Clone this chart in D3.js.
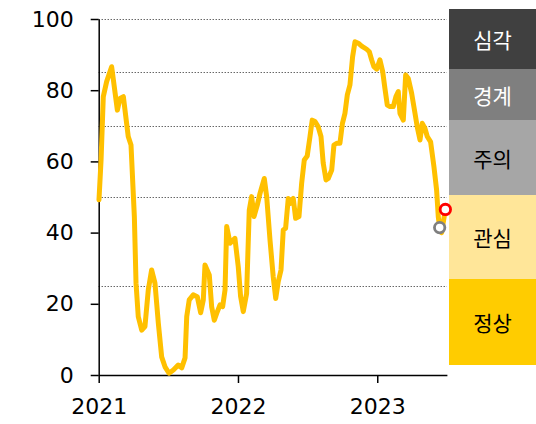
<!DOCTYPE html>
<html>
<head>
<meta charset="utf-8">
<script src="https://cdn.jsdelivr.net/npm/d3@7"></script>
<style>
  html, body { margin: 0; padding: 0; background: #fff; }
  svg { display: block; }
</style>
</head>
<body>
<svg id="chart" width="536" height="424"></svg>
<script>
// ---- data ----
const times = [
  2021.002, 2021.017, 2021.033, 2021.057, 2021.093, 2021.134, 2021.153, 2021.177, 2021.212, 2021.232,
  2021.256, 2021.268, 2021.284, 2021.309, 2021.332, 2021.356, 2021.380, 2021.404, 2021.428, 2021.452,
  2021.476, 2021.505, 2021.536, 2021.571, 2021.596, 2021.620, 2021.632, 2021.650, 2021.679, 2021.708,
  2021.732, 2021.751, 2021.763, 2021.794, 2021.811, 2021.830, 2021.847, 2021.871, 2021.890, 2021.907,
  2021.919, 2021.943, 2021.978, 2022.002, 2022.019, 2022.038, 2022.062, 2022.081, 2022.098, 2022.115,
  2022.139, 2022.158, 2022.189, 2022.206, 2022.230, 2022.253, 2022.271, 2022.289, 2022.309, 2022.325,
  2022.342, 2022.361, 2022.380, 2022.397, 2022.414, 2022.438, 2022.457, 2022.476, 2022.497, 2022.517,
  2022.533, 2022.553, 2022.576, 2022.596, 2022.612, 2022.632, 2022.648, 2022.673, 2022.689, 2022.709,
  2022.732, 2022.750, 2022.768, 2022.785, 2022.804, 2022.823, 2022.840, 2022.864, 2022.888, 2022.924,
  2022.943, 2022.960, 2022.976, 2022.996, 2023.019, 2023.039, 2023.055, 2023.072, 2023.091, 2023.115,
  2023.134, 2023.151, 2023.163, 2023.187, 2023.204, 2023.223, 2023.247, 2023.271, 2023.287, 2023.307,
  2023.323, 2023.342, 2023.359, 2023.383, 2023.407, 2023.426, 2023.438, 2023.448, 2023.462, 2023.489
];
const values = [
  49.2, 60.4, 78.2, 82.4, 86.6, 74.4, 77.7, 78.2, 67.0, 64.6,
  44.5, 25.8, 16.4, 12.6, 13.6, 23.9, 29.5, 25.8, 14.6, 5.1,
  2.3, 0.5, 1.4, 2.8, 2.0, 4.8, 16.4, 21.1, 22.5, 22.0,
  17.5, 21.1, 30.9, 28.1, 19.2, 15.4, 17.3, 19.7, 19.2, 23.9,
  41.7, 37.0, 38.4, 30.4, 22.0, 17.8, 22.9, 46.3, 50.1, 44.5,
  47.8, 51.0, 55.2, 50.1, 37.9, 27.6, 21.5, 26.2, 29.5, 40.7,
  41.2, 49.6, 48.2, 49.6, 44.0, 44.5, 53.8, 60.4, 61.5, 67.0,
  71.6, 71.2, 69.7, 67.0, 59.5, 54.8, 55.2, 57.6, 64.6, 65.1,
  65.1, 70.7, 73.5, 78.7, 81.5, 89.4, 93.6, 93.2, 92.4, 91.5,
  90.8, 88.5, 86.6, 85.9, 88.5, 85.2, 80.5, 75.8, 75.4, 75.4,
  78.2, 79.6, 73.5, 71.6, 84.3, 83.3, 79.1, 73.5, 69.7, 66.0,
  70.7, 69.3, 67.0, 65.5, 58.5, 52.0, 44.5, 41.4, 40.0, 46.5
];
const grayPoint = { t: 2023.448, v: 41.4 };
const redPoint  = { t: 2023.489, v: 46.5 };

const yTicks = [0, 20, 40, 60, 80, 100];
const xTicks = [2021, 2022, 2023];
const gridValues = [25, 50, 70, 85, 100];

const bandLabels = ["심각", "경계", "주의", "관심", "정상"];
const bandColors = ["#404040", "#7f7f7f", "#a6a6a6", "#ffe699", "#ffcc00"];
const bandTextColors = ["#ffffff", "#ffffff", "#000000", "#000000", "#000000"];

// ---- layout ----
const plotLeft = 98.7, plotRight = 446.9, plotTop = 19, plotBottom = 375;
const bandX0 = 449, bandX1 = 536;
const bandEdges = [9, 69, 120, 195, 279, 365]; // panel layout (pixels)

const svg = d3.select("#chart");
const x = d3.scaleLinear().domain([2021, 2023.5]).range([plotLeft, plotRight]);
const y = d3.scaleLinear().domain([0, 100]).range([plotBottom, plotTop]);

const numFont = "'DejaVu Sans', 'Noto Sans', sans-serif";
const krFont = "'Noto Sans CJK KR', 'Noto Sans', sans-serif";

// bands panel (drawn first so markers sit on top)
const bands = bandLabels.map((label, i) => ({
  label, color: bandColors[i], text: bandTextColors[i],
  y0: bandEdges[i], y1: bandEdges[i + 1]
}));
const bg = svg.append("g");
bg.selectAll("rect").data(bands).join("rect")
  .attr("x", bandX0).attr("width", bandX1 - bandX0)
  .attr("y", d => d.y0).attr("height", d => d.y1 - d.y0)
  .attr("fill", d => d.color);
bg.selectAll("text").data(bands).join("text")
  .attr("x", (bandX0 + bandX1) / 2)
  .attr("y", d => (d.y0 + d.y1) / 2)
  .attr("text-anchor", "middle")
  .attr("dominant-baseline", "central")
  .attr("font-family", krFont)
  .attr("font-size", 21)
  .attr("fill", d => d.text)
  .text(d => d.label);

// grid lines
svg.append("g").selectAll("line").data(gridValues).join("line")
  .attr("x1", plotLeft).attr("x2", plotRight)
  .attr("y1", d => Math.round(y(d)) + 0.5).attr("y2", d => Math.round(y(d)) + 0.5)
  .attr("stroke", "#222").attr("stroke-width", 1)
  .attr("stroke-dasharray", "1,2");

// y axis
const yAxis = svg.append("g")
  .attr("transform", `translate(${plotLeft},0)`)
  .call(d3.axisLeft(y).tickValues(yTicks).tickSize(8).tickPadding(17).tickSizeOuter(0));
yAxis.select(".domain").attr("stroke", "#000").attr("stroke-width", 1.5);
yAxis.selectAll(".tick line").attr("stroke", "#000").attr("stroke-width", 1.5);
yAxis.selectAll(".tick text").attr("font-family", numFont).attr("font-size", 22).attr("fill", "#000");

// x axis
const xAxis = svg.append("g")
  .attr("transform", `translate(0,${plotBottom})`)
  .call(d3.axisBottom(x).tickValues(xTicks).tickFormat(d3.format("d")).tickSize(8).tickPadding(15).tickSizeOuter(0));
xAxis.select(".domain").attr("stroke", "#000").attr("stroke-width", 1.5);
xAxis.selectAll(".tick line").attr("stroke", "#000").attr("stroke-width", 1.5);
xAxis.selectAll(".tick text").attr("font-family", numFont).attr("font-size", 22).attr("fill", "#000");

// line
const data = times.map((t, i) => ({ t, v: values[i] }));
const line = d3.line().x(d => x(d.t)).y(d => y(d.v)).curve(d3.curveLinear);
svg.append("path").datum(data)
  .attr("d", line)
  .attr("fill", "none")
  .attr("stroke", "#ffc000")
  .attr("stroke-width", 5)
  .attr("stroke-linejoin", "round")
  .attr("stroke-linecap", "round");

// markers
svg.append("circle").attr("cx", x(grayPoint.t)).attr("cy", y(grayPoint.v)).attr("r", 5.2)
  .attr("fill", "#fff").attr("stroke", "#7f7f7f").attr("stroke-width", 2.8);
svg.append("circle").attr("cx", x(redPoint.t)).attr("cy", y(redPoint.v)).attr("r", 5.2)
  .attr("fill", "#fff").attr("stroke", "#ff0000").attr("stroke-width", 2.8);
</script>
</body>
</html>
